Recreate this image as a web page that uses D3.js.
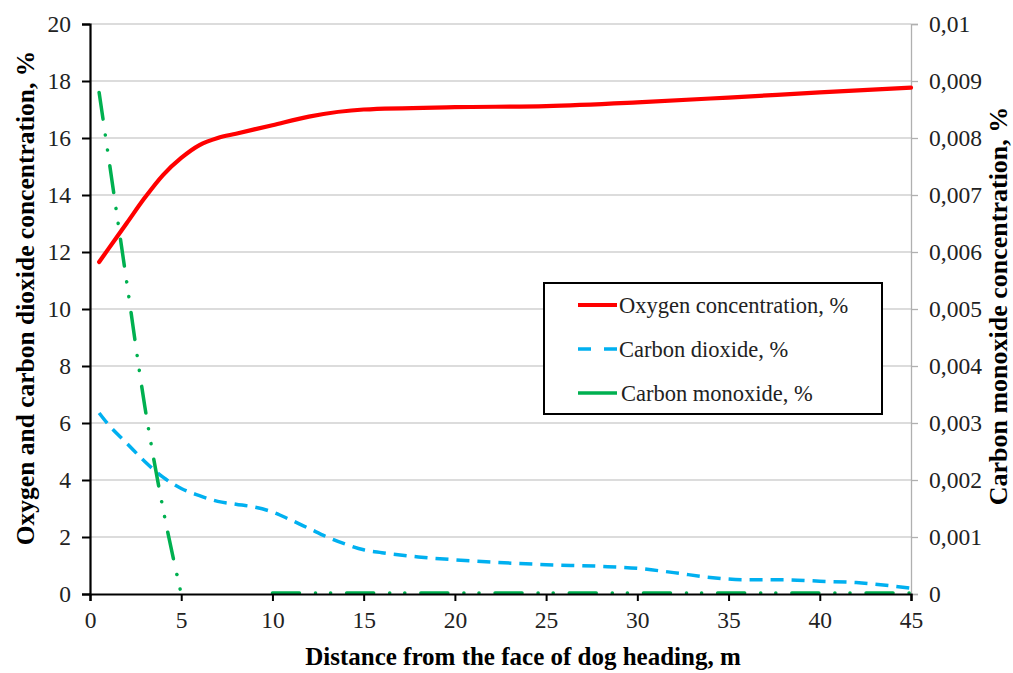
<!DOCTYPE html>
<html>
<head>
<meta charset="utf-8">
<script src="https://cdn.jsdelivr.net/npm/d3@7"></script>
<style>
  html, body { margin: 0; padding: 0; background: #fff; }
  svg { display: block; font-family: "Liberation Serif", "Times New Roman", serif; }
</style>
</head>
<body>
<svg id="chart" width="1013" height="673"></svg>
<script>
// ---- data ----
const oxygenX = [0.5, 1, 2, 3, 4, 5, 6, 7, 8, 10, 12, 15, 20, 25, 30, 35, 40, 45];
const oxygenY = [11.65, 12.1, 13.0, 13.9, 14.7, 15.3, 15.75, 16.0, 16.15, 16.45, 16.75, 17.0, 17.08, 17.12, 17.25, 17.42, 17.6, 17.77];

const co2X = [0.5, 1, 2, 3, 4, 5, 6, 7, 8, 9, 10, 11, 12, 13, 14, 15, 16, 18, 20, 22, 25, 28, 30, 32, 34, 36, 38, 40, 42, 45];
const co2Y = [6.35, 5.95, 5.3, 4.65, 4.1, 3.7, 3.45, 3.25, 3.15, 3.05, 2.88, 2.6, 2.3, 2.0, 1.75, 1.55, 1.45, 1.3, 1.2, 1.12, 1.03, 0.97, 0.9, 0.75, 0.58, 0.5, 0.5, 0.45, 0.4, 0.2];

// carbon monoxide: visible falling segment and visible flat segment
const coDropX = [0.5, 1, 2, 3, 4, 5];
const coDropY = [0.0088, 0.0077, 0.0055, 0.0033, 0.0015, 0];
const coFlatX = [10, 15, 20, 25, 30, 35, 40, 45];
const coFlatY = [0, 0, 0, 0, 0, 0, 0, 0];

const xTicks = [0, 5, 10, 15, 20, 25, 30, 35, 40, 45];
const yLeftTicks = [0, 2, 4, 6, 8, 10, 12, 14, 16, 18, 20];
const yRightTicks = [0, 0.001, 0.002, 0.003, 0.004, 0.005, 0.006, 0.007, 0.008, 0.009, 0.01];
const yRightLabels = ["0", "0,001", "0,002", "0,003", "0,004", "0,005", "0,006", "0,007", "0,008", "0,009", "0,01"];

const seriesNames = ["Oxygen concentration, %", "Carbon dioxide, %", "Carbon monoxide, %"];
const xTitle = "Distance from the face of dog heading, m";
const yLeftTitle = "Oxygen and carbon dioxide concentration, %";
const yRightTitle = "Carbon monoxide concentration, %";

// ---- layout ----
const svg = d3.select("#chart");
const L = 90, R = 911, T = 24, B = 594;
const FONT = "Liberation Serif";

const x = d3.scaleLinear().domain([0, 45]).range([L, R]);
const yL = d3.scaleLinear().domain([0, 20]).range([B, T]);
const yR = d3.scaleLinear().domain([0, 0.01]).range([B, T]);

// gridlines
svg.append("g").selectAll("line").data(yLeftTicks.filter(d => d > 0)).join("line")
  .attr("x1", L).attr("x2", R)
  .attr("y1", d => yL(d)).attr("y2", d => yL(d))
  .attr("stroke", "#d0d0d0").attr("stroke-width", 1.3);

// right axis (gray)
const gR = svg.append("g").attr("transform", `translate(${R},0)`)
  .call(d3.axisRight(yR).tickValues(yRightTicks).tickSize(7).tickPadding(11)
    .tickFormat((d, i) => yRightLabels[i]));
gR.attr("font-family", FONT);
gR.select(".domain").attr("stroke", "#b0b0b0").attr("stroke-width", 1.3);
gR.selectAll(".tick line").attr("stroke", "#b0b0b0").attr("stroke-width", 1.3);
gR.selectAll("text").attr("font-size", 23.5).attr("fill", "#222");

// series
const lineGen = d3.line().curve(d3.curveMonotoneX);

const co2Pts = co2X.map((d, i) => [x(d), yL(co2Y[i])]);
svg.append("path").attr("d", lineGen(co2Pts))
  .attr("fill", "none").attr("stroke", "#00b0f0").attr("stroke-width", 3.5)
  .attr("stroke-dasharray", "13,8");

const coDash = "27,16,0.1,15,0.1,16";
const coDropPts = coDropX.map((d, i) => [x(d), yR(coDropY[i])]);
svg.append("path").attr("d", lineGen(coDropPts))
  .attr("fill", "none").attr("stroke", "#00b050").attr("stroke-width", 3.5)
  .attr("stroke-linecap", "round").attr("stroke-dasharray", coDash);
const coFlatPts = coFlatX.map((d, i) => [x(d), yR(coFlatY[i]) - 1]);
svg.append("path").attr("d", lineGen(coFlatPts))
  .attr("fill", "none").attr("stroke", "#00b050").attr("stroke-width", 3.5)
  .attr("stroke-linecap", "round").attr("stroke-dasharray", coDash);

const oxPts = oxygenX.map((d, i) => [x(d), yL(oxygenY[i])]);
svg.append("path").attr("d", lineGen(oxPts))
  .attr("fill", "none").attr("stroke", "#ff0000").attr("stroke-width", 4.2)
  .attr("stroke-linecap", "round");

// left axis
const gL = svg.append("g").attr("transform", `translate(${L},0)`)
  .call(d3.axisLeft(yL).tickValues(yLeftTicks).tickSize(8).tickPadding(11));
gL.attr("font-family", FONT);
gL.select(".domain").attr("stroke", "#000").attr("stroke-width", 2.2);
gL.selectAll(".tick line").attr("stroke", "#000").attr("stroke-width", 2);
gL.selectAll("text").attr("font-size", 23.5).attr("fill", "#222");

// bottom axis
const gB = svg.append("g").attr("transform", `translate(0,${B})`)
  .call(d3.axisBottom(x).tickValues(xTicks).tickSize(7).tickPadding(10));
gB.attr("font-family", FONT);
gB.select(".domain").attr("stroke", "#000").attr("stroke-width", 2.2);
gB.selectAll(".tick line").attr("stroke", "#000").attr("stroke-width", 2);
gB.selectAll("text").attr("font-size", 23.5).attr("fill", "#222");

// titles
svg.append("text").attr("x", 523).attr("y", 665).attr("text-anchor", "middle")
  .attr("font-family", FONT).attr("font-size", 25).attr("font-weight", "bold").text(xTitle);
svg.append("text").attr("transform", `translate(34,298) rotate(-90)`)
  .attr("text-anchor", "middle").attr("font-family", FONT)
  .attr("font-size", 25.5).attr("font-weight", "bold").text(yLeftTitle);
svg.append("text").attr("transform", `translate(1007,306) rotate(-90)`)
  .attr("text-anchor", "middle").attr("font-family", FONT)
  .attr("font-size", 26).attr("font-weight", "bold").text(yRightTitle);

// legend
const lg = svg.append("g").attr("font-family", FONT);
lg.append("rect").attr("x", 544).attr("y", 283).attr("width", 338).attr("height", 131)
  .attr("fill", "#fff").attr("stroke", "#000").attr("stroke-width", 2);
const legStyles = [
  { color: "#ff0000", dash: null, w: 4.2 },
  { color: "#00b0f0", dash: "13,13", w: 3.5 },
  { color: "#00b050", dash: null, w: 3.5 }
];
const legY = [305, 349, 393];
seriesNames.forEach((name, i) => {
  lg.append("line").attr("x1", 578).attr("x2", 617).attr("y1", legY[i]).attr("y2", legY[i])
    .attr("stroke", legStyles[i].color).attr("stroke-width", legStyles[i].w)
    .attr("stroke-dasharray", legStyles[i].dash);
  lg.append("text").attr("x", i === 2 ? 621 : 619).attr("y", legY[i]).attr("dy", "0.35em")
    .attr("font-size", 22.5).attr("fill", "#222").text(name);
});
</script>
</body>
</html>
